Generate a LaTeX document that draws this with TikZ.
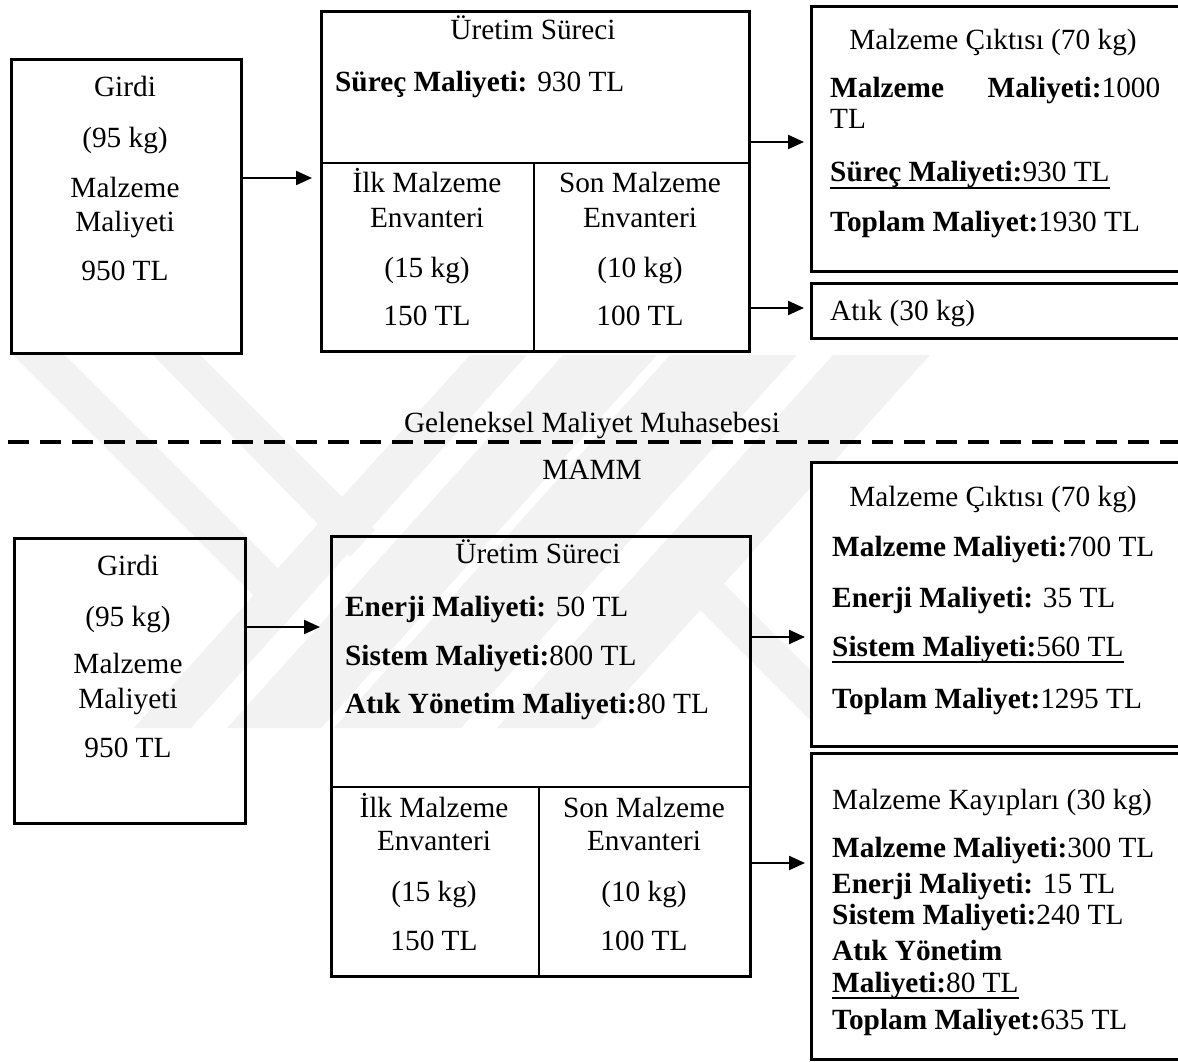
\documentclass[tikz,border=0pt]{standalone}
\usepackage{fontspec}
\setmainfont{Liberation Serif}
\usetikzlibrary{arrows.meta}
% underline drawn a fixed distance below the baseline
\newcommand\undl[1]{\sbox0{#1}\rlap{\rule[-7pt]{\wd0}{1.6pt}}\usebox0}
\begin{document}
\begin{tikzpicture}[x=1pt,y=-1pt,
  box/.style={draw, line width=2.9pt, anchor=north west, inner sep=0pt},
  wbox/.style={box, fill=white},
  txt/.style={inner sep=0pt, font=\fontsize{29.3}{33.7}\selectfont},
  ctr/.style={txt, anchor=base},
  lft/.style={txt, anchor=base west},
  arr/.style={line width=2.2pt, -{Triangle[length=16pt,width=14pt]}},
  sepline/.style={line width=3.5pt, dash pattern=on 21pt off 11pt},
  divline/.style={line width=2.9pt},
  stripe/.style={fill=black!5, draw=none}
]
\useasboundingbox (0,0) rectangle (1178,1062);
\clip (0,0) rectangle (1178,1062);

% ---------------- faint background emblem ----------------
\begin{scope}
  \clip (0,355) rectangle (1178,728);
  \fill[stripe] (470,355) -- (527,355) -- (191,728) -- (134,728) -- cycle;
  \fill[stripe] (563,355) -- (657,355) -- (321,728) -- (227,728) -- cycle;
  \fill[stripe] (670,355) -- (797,355) -- (461,728) -- (334,728) -- cycle;
  \fill[stripe] (833,355) -- (930,355) -- (594,728) -- (497,728) -- cycle;
  \fill[stripe] (13,355) -- (65,355) -- (308,598) -- (283.5,625.5) -- cycle;
  \fill[stripe] (153,355) -- (200,355) -- (375,530) -- (350,557) -- cycle;
  \fill[stripe] (649,559) -- (673,533) -- (868,728) -- (818,728) -- cycle;
\end{scope}

% ---------------- Geleneksel Maliyet Muhasebesi ----------------
\node[box, minimum width=230pt, minimum height=294pt] (g1) at (10,58) {};
\node[ctr] (g1a) at (125,97)  {Girdi};
\node[ctr] (g1b) at (125,147) {(95 kg)};
\node[ctr] (g1c) at (125,197) {Malzeme};
\node[ctr] (g1d) at (125,231) {Maliyeti};
\node[ctr] (g1e) at (125,280) {950 TL};

\node[box, minimum width=428pt, minimum height=340pt] (u1) at (320,10) {};
\coordinate (u1m) at (534,163);
\draw[divline] (u1.west |- u1m) -- (u1.east |- u1m);
\draw[divline] (u1m) -- (u1m |- u1.south);
\node[ctr] (u1a) at (533,40) {Üretim Süreci};
\node[lft] (u1b) at (335,92) {\textbf{Süreç Maliyeti:} 930 TL};
\node[ctr] (u1c) at (427,193) {İlk Malzeme};
\node[ctr] (u1d) at (427,227) {Envanteri};
\node[ctr] (u1e) at (427,277) {(15 kg)};
\node[ctr] (u1f) at (427,325) {150 TL};
\node[ctr] (u1g) at (640,193) {Son Malzeme};
\node[ctr] (u1h) at (640,227) {Envanteri};
\node[ctr] (u1i) at (640,277) {(10 kg)};
\node[ctr] (u1j) at (640,325) {100 TL};

\node[wbox, minimum width=380pt, minimum height=265pt] (o1) at (810,5) {};
\node[ctr] (o1a) at (993,50) {Malzeme Çıktısı (70 kg)};
\node[lft] (o1b) at (830,98) {\makebox[330pt][l]{\textbf{Malzeme}\hfill\textbf{Maliyeti:}1000}};
\node[lft] (o1c) at (830,129) {TL};
\node[lft] (o1d) at (830,182) {\undl{\textbf{Süreç Maliyeti:}930 TL}};
\node[lft] (o1e) at (830,231) {\textbf{Toplam Maliyet:}1930 TL};

\node[wbox, minimum width=380pt, minimum height=55pt] (w1) at (810,282) {};
\node[lft] (w1a) at (830,320) {Atık (30 kg)};

\coordinate (y1) at (0,178);
\coordinate (y2) at (0,142);
\coordinate (y3) at (0,308);
\draw[arr, shorten >=8pt] (g1.east |- y1) -- (u1.west |- y1);
\draw[arr, shorten >=6pt] (u1.east |- y2) -- (o1.west |- y2);
\draw[arr, shorten >=6pt] (u1.east |- y3) -- (w1.west |- y3);

% ---------------- separator ----------------
\coordinate (sl) at (8,442);
\coordinate (sr) at (1178,442);
\draw[sepline] (sl) -- (sr);
\node[ctr] (t1) at (592,432) {Geleneksel Maliyet Muhasebesi};
\node[ctr] (t2) at (592,479) {MAMM};

% ---------------- MAMM ----------------
\node[box, minimum width=231pt, minimum height=285pt] (g2) at (13,537) {};
\node[ctr] (g2a) at (128,575) {Girdi};
\node[ctr] (g2b) at (128,626) {(95 kg)};
\node[ctr] (g2c) at (128,673) {Malzeme};
\node[ctr] (g2d) at (128,708) {Maliyeti};
\node[ctr] (g2e) at (128,757) {950 TL};

\node[box, minimum width=419pt, minimum height=440pt] (u2) at (330,535) {};
\coordinate (u2m) at (539,787);
\draw[divline] (u2.west |- u2m) -- (u2.east |- u2m);
\draw[divline] (u2m) -- (u2m |- u2.south);
\node[ctr] (u2a) at (538,563) {Üretim Süreci};
\node[lft] (u2b) at (345,616) {\textbf{Enerji Maliyeti:} 50 TL};
\node[lft] (u2c) at (345,665) {\textbf{Sistem Maliyeti:}800 TL};
\node[lft] (u2d) at (345,713) {\textbf{Atık Yönetim Maliyeti:}80 TL};
\node[ctr] (u2e) at (434,817) {İlk Malzeme};
\node[ctr] (u2f) at (434,850) {Envanteri};
\node[ctr] (u2g) at (434,901) {(15 kg)};
\node[ctr] (u2h) at (434,950) {150 TL};
\node[ctr] (u2i) at (644,817) {Son Malzeme};
\node[ctr] (u2j) at (644,850) {Envanteri};
\node[ctr] (u2k) at (644,901) {(10 kg)};
\node[ctr] (u2l) at (644,950) {100 TL};

\node[wbox, minimum width=380pt, minimum height=284pt] (o2) at (810,461) {};
\node[ctr] (o2a) at (993,506) {Malzeme Çıktısı (70 kg)};
\node[lft] (o2b) at (832,556) {\textbf{Malzeme Maliyeti:}700 TL};
\node[lft] (o2c) at (832,607) {\textbf{Enerji Maliyeti:} 35 TL};
\node[lft] (o2d) at (832,656) {\undl{\textbf{Sistem Maliyeti:}560 TL}};
\node[lft] (o2e) at (832,708) {\textbf{Toplam Maliyet:}1295 TL};

\node[wbox, minimum width=380pt, minimum height=306pt] (l2) at (810,752) {};
\node[lft] (l2a) at (832,809)  {Malzeme Kayıpları (30 kg)};
\node[lft] (l2b) at (832,857)  {\textbf{Malzeme Maliyeti:}300 TL};
\node[lft] (l2c) at (832,893)  {\textbf{Enerji Maliyeti:} 15 TL};
\node[lft] (l2d) at (832,924)  {\textbf{Sistem Maliyeti:}240 TL};
\node[lft] (l2e) at (832,960)  {\textbf{Atık Yönetim}};
\node[lft] (l2f) at (832,992)  {\undl{\textbf{Maliyeti:}80 TL}};
\node[lft] (l2g) at (832,1029) {\textbf{Toplam Maliyet:}635 TL};

\coordinate (y4) at (0,627);
\coordinate (y5) at (0,637);
\coordinate (y6) at (0,863);
\draw[arr, shorten >=10pt] (g2.east |- y4) -- (u2.west |- y4);
\draw[arr, shorten >=5pt] (u2.east |- y5) -- (o2.west |- y5);
\draw[arr, shorten >=5pt] (u2.east |- y6) -- (l2.west |- y6);
\end{tikzpicture}
\end{document}
